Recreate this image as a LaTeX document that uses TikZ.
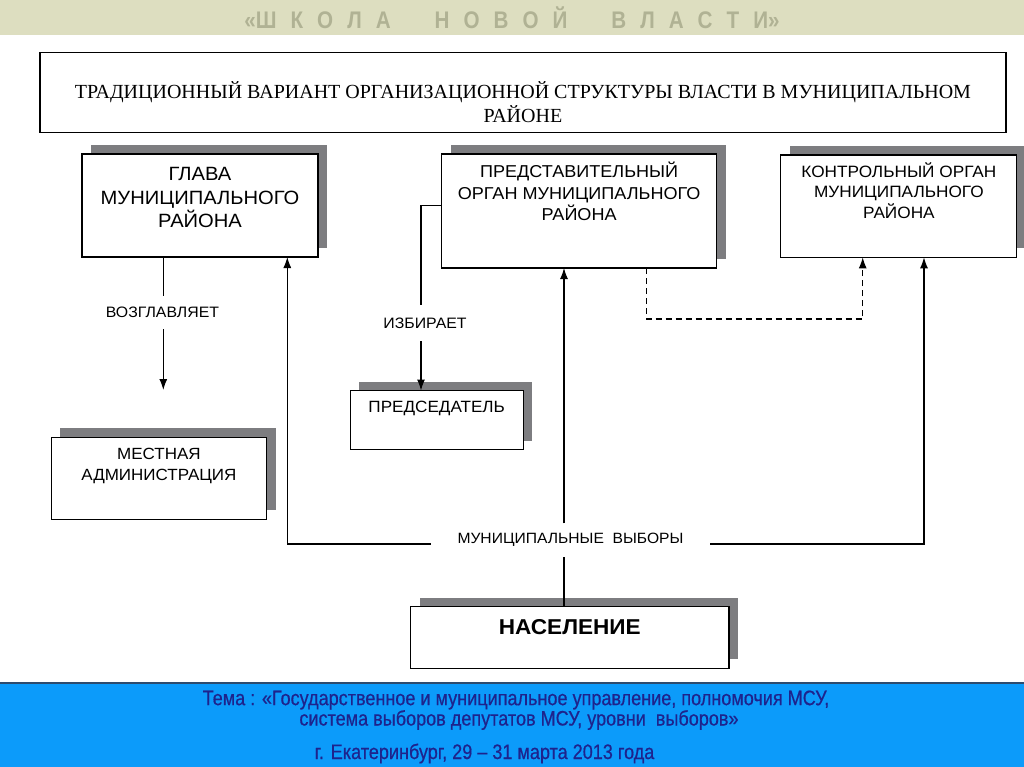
\documentclass[tikz,border=0pt]{standalone}
\usepackage{fontspec}
\setmainfont{Liberation Sans}
\newfontfamily\titlefont{Liberation Serif}
\newfontfamily\widefont[FakeStretch=1.05]{Liberation Sans}
\newfontfamily\narrowfont[FakeStretch=0.86]{Liberation Sans}
\newfontfamily\bandfont[FakeStretch=0.86,FakeBold=0.5]{Liberation Sans}
\usetikzlibrary{shadows,arrows.meta}
\definecolor{bannerbg}{RGB}{221,222,192}
\definecolor{bannertext}{RGB}{176,178,148}
\definecolor{shadowgray}{RGB}{125,125,128}
\definecolor{bandblue}{RGB}{12,155,250}
\definecolor{bandline}{RGB}{45,75,110}
\definecolor{bandtext}{RGB}{30,35,140}
% width, height, first baseline, font, content
\newcommand\bxt[5]{\parbox[c][#2][t]{#1}{\centering #4\rule{0pt}{#3}#5}}
\newcommand\fsz[2]{\fontsize{#1}{#2}\selectfont}
\begin{document}
\begin{tikzpicture}[x=1pt,y=-1pt,
  orgbox/.style={draw, line width=1.1pt, fill=white, inner sep=0pt, outer sep=0pt,
    drop shadow={shadow xshift=9pt, shadow yshift=9pt, fill=shadowgray, opacity=1}},
  titlebox/.style={draw, line width=1.5pt, fill=white, inner sep=0pt, outer sep=0pt},
  conn/.style={line width=1.1pt},
  arr/.style={conn, -{Latex[length=11pt,width=8pt]}},
  lbl/.style={inner xsep=0pt, inner ysep=0pt, font=\widefont\fsz{15.1}{18}},
  band/.style={text=bandtext, inner sep=0pt, font=\bandfont\fsz{21}{24}},
]
\useasboundingbox (0,0) rectangle (1024,767);
\fill[white] (0,0) rectangle (1024,767);
% banner
\fill[bannerbg] (0,0) rectangle (1024,35);
\node[text=bannertext, inner sep=0pt, font=\narrowfont\bfseries\fsz{24}{26}] (banner) at (512,18)
  {«Ш\hspace{14pt}К\hspace{14pt}О\hspace{14pt}Л\hspace{14pt}А\hspace{44pt}Н\hspace{14pt}О\hspace{14pt}В\hspace{14pt}О\hspace{14pt}Й\hspace{44pt}В\hspace{14pt}Л\hspace{14pt}А\hspace{14pt}С\hspace{14pt}Т\hspace{14pt}И»};
% title
\node[titlebox] (title) at (523,92.5)
  {\bxt{966pt}{80pt}{46.5pt}{\titlefont\fsz{20}{24}}{ТРАДИЦИОННЫЙ ВАРИАНТ ОРГАНИЗАЦИОННОЙ СТРУКТУРЫ ВЛАСТИ В МУНИЦИПАЛЬНОМ\\РАЙОНЕ}};
% boxes
\node[orgbox] (glava) at (200,205.5)
  {\bxt{236pt}{103pt}{26.5pt}{\widefont\fsz{19.2}{23.5}}{ГЛАВА\\МУНИЦИПАЛЬНОГО\\РАЙОНА}};
\node[orgbox] (pred) at (579.1,211)
  {\bxt{275pt}{114pt}{23.7pt}{\widefont\fsz{17.2}{21.5}}{ПРЕДСТАВИТЕЛЬНЫЙ\\ОРГАН МУНИЦИПАЛЬНОГО\\РАЙОНА}};
\node[orgbox] (kontr) at (898.9,206.2)
  {\bxt{236pt}{102.3pt}{22.3pt}{\widefont\fsz{16.4}{20.5}}{КОНТРОЛЬНЫЙ ОРГАН\\МУНИЦИПАЛЬНОГО\\РАЙОНА}};
\node[orgbox] (mest) at (158.9,478.2)
  {\bxt{215.7pt}{81.7pt}{21.7pt}{\widefont\fsz{16.2}{21.5}}{МЕСТНАЯ\\АДМИНИСТРАЦИЯ}};
\node[orgbox] (pres) at (436.7,420)
  {\bxt{173.3pt}{59pt}{22pt}{\widefont\fsz{16.3}{20}}{ПРЕДСЕДАТЕЛЬ}};
\node[orgbox] (nas) at (569.8,637.5)
  {\bxt{318.4pt}{61.6pt}{27.5pt}{\widefont\bfseries\fsz{21.5}{24}}{НАСЕЛЕНИЕ}};
% labels
\node[lbl, minimum height=33pt] (vozg) at (162.5,312.7) {ВОЗГЛАВЛЯЕТ};
\node[lbl, minimum height=36pt] (izb) at (425,323) {ИЗБИРАЕТ};
\node[lbl, minimum height=33pt, minimum width=279pt, font=\widefont\fsz{14.9}{18}] (elect) at (570.5,540) {МУНИЦИПАЛЬНЫЕ\ \ ВЫБОРЫ};
\coordinate (vozgEnd) at (163.3,390);
% connectors
\draw[conn] (glava.south -| 163.3,0) -- (vozg.north -| 163.3,0);
\draw[arr] (vozg.south -| 163.3,0) -- (vozgEnd);
\draw[arr] (elect.west |- 0,544) -| (glava.south -| 287.3,0);
\draw[arr] (elect.east |- 0,544) -| (kontr.south -| 924,0);
\draw[conn] (nas.north -| 564,0) -- (elect.south -| 564,0);
\draw[arr] (elect.north -| 564,0) -- (pred.south -| 564,0);
\draw[conn] (pred.west |- 0,205.7) -| (izb.north -| 421,0);
\draw[arr] (izb.south -| 421,0) -- (pres.north -| 421,0);
\draw[arr, dash pattern=on 6pt off 4pt] (pred.south -| 646.7,0) -- (646.7,319) -| (kontr.south -| 862.7,0);
% bottom band
\fill[bandblue] (0,683) rectangle (1024,767);
\draw[bandline, line width=2pt] (0,683) -- (1024,683);
\node[band] (t1) at (516,700) {Тема : «Государственное и муниципальное управление, полномочия МСУ,};
\node[band] (t2) at (519,720) {система выборов депутатов МСУ, уровни\ \ выборов»};
\node[band] (t3) at (484.5,753.5) {г. Екатеринбург, 29 – 31 марта 2013 года};
\end{tikzpicture}
\end{document}
